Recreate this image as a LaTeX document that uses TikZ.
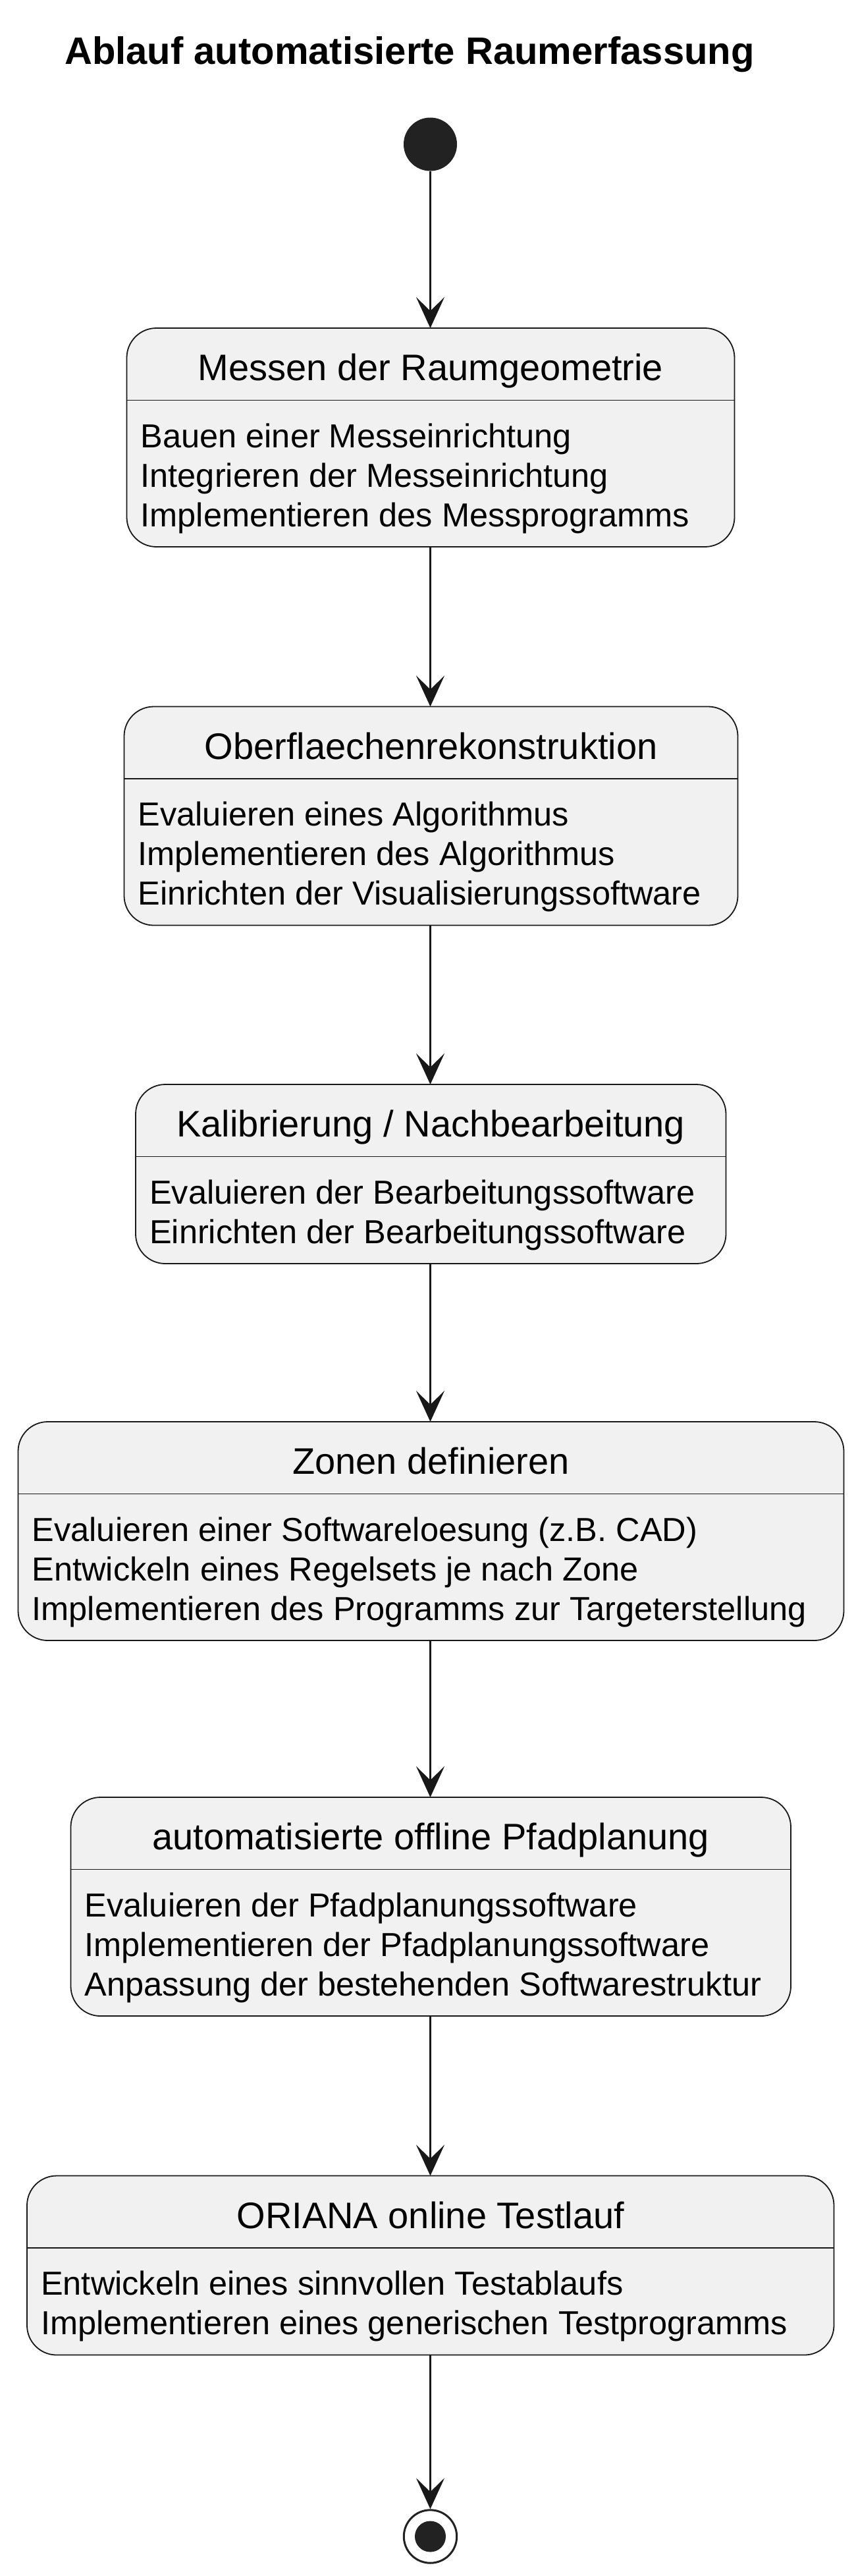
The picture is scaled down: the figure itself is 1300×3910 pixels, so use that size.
\documentclass[tikz,border=0pt]{standalone}
\usepackage{fontspec}
\setmainfont{Liberation Sans}
\usetikzlibrary{arrows.meta}
\definecolor{boxfill}{HTML}{F1F1F1}
\definecolor{boxline}{HTML}{181818}
\definecolor{dotfill}{HTML}{222222}
\tikzset{
  statebox/.style={draw=boxline, fill=boxfill, line width=1.8pt, rounded corners=45pt, inner sep=0pt, outer sep=0pt, anchor=north west},
  divline/.style={draw=boxline, line width=1.8pt},
  sttitle/.style={anchor=base, inner sep=0pt, font=\fontsize{56}{67}\selectfont},
  stline/.style={anchor=base west, inner sep=0pt, font=\fontsize{50.5}{60}\selectfont},
  flow/.style={draw=boxline, line width=3.5pt, -{Stealth[length=47pt, width=43pt, inset=21pt]}},
  diagtitle/.style={anchor=base west, inner sep=0pt, font=\bfseries\fontsize{58}{70}\selectfont},
  startdot/.style={circle, fill=dotfill, draw=dotfill, line width=1pt, minimum size=80pt, inner sep=0pt},
  endring/.style={circle, draw=dotfill, fill=white, line width=3pt, minimum size=80.4pt, inner sep=0pt},
  enddot/.style={circle, fill=dotfill, minimum size=47pt, inner sep=0pt}
}
\newcommand\mkstate[6]{%
  \node[statebox, minimum width=#4pt, minimum height=#5pt] (#1) at (#2,#3) {};
  \draw[divline] ([yshift=-109.5pt]#1.north west) -- ([yshift=-109.5pt]#1.north east);
  \node[sttitle] (#1t) at ([yshift=-79.5pt]#1.north) {#6};
}
\begin{document}
\begin{tikzpicture}[x=1pt,y=-1pt]
\path[use as bounding box, fill=white] (0,0) rectangle (1300,3910);

\node[diagtitle] (title) at (98,98) {Ablauf automatisierte Raumerfassung};

\node[startdot] (start) at (653.5,219) {};

% State 1
\mkstate{s1}{192.5}{498}{923}{332}{Messen der Raumgeometrie}
\node[stline] (s1a) at ([xshift=21pt,yshift=-181pt]s1.north west) {Bauen einer Messeinrichtung};
\node[stline] (s1b) at ([xshift=21pt,yshift=-241pt]s1.north west) {Integrieren der Messeinrichtung};
\node[stline] (s1c) at ([xshift=21pt,yshift=-301pt]s1.north west) {Implementieren des Messprogramms};

% State 2
\mkstate{s2}{188.5}{1072.5}{932}{332}{Oberflaechenrekonstruktion}
\node[stline] (s2a) at ([xshift=21pt,yshift=-181pt]s2.north west) {Evaluieren eines Algorithmus};
\node[stline] (s2b) at ([xshift=21pt,yshift=-241pt]s2.north west) {Implementieren des Algorithmus};
\node[stline] (s2c) at ([xshift=21pt,yshift=-301pt]s2.north west) {Einrichten der Visualisierungssoftware};

% State 3
\mkstate{s3}{206}{1646}{896.5}{272}{Kalibrierung / Nachbearbeitung}
\node[stline] (s3a) at ([xshift=21pt,yshift=-181pt]s3.north west) {Evaluieren der Bearbeitungssoftware};
\node[stline] (s3b) at ([xshift=21pt,yshift=-241pt]s3.north west) {Einrichten der Bearbeitungssoftware};

% State 4
\mkstate{s4}{27.5}{2158}{1254}{332}{Zonen definieren}
\node[stline] (s4a) at ([xshift=21pt,yshift=-181pt]s4.north west) {Evaluieren einer Softwareloesung (z.B. CAD)};
\node[stline] (s4b) at ([xshift=21pt,yshift=-241pt]s4.north west) {Entwickeln eines Regelsets je nach Zone};
\node[stline] (s4c) at ([xshift=21pt,yshift=-301pt]s4.north west) {Implementieren des Programms zur Targeterstellung};

% State 5
\mkstate{s5}{107.5}{2728}{1093.5}{332}{automatisierte offline Pfadplanung}
\node[stline] (s5a) at ([xshift=21pt,yshift=-181pt]s5.north west) {Evaluieren der Pfadplanungssoftware};
\node[stline] (s5b) at ([xshift=21pt,yshift=-241pt]s5.north west) {Implementieren der Pfadplanungssoftware};
\node[stline] (s5c) at ([xshift=21pt,yshift=-301pt]s5.north west) {Anpassung der bestehenden Softwarestruktur};

% State 6
\mkstate{s6}{41}{3302.5}{1225.5}{272}{ORIANA online Testlauf}
\node[stline] (s6a) at ([xshift=21pt,yshift=-181pt]s6.north west) {Entwickeln eines sinnvollen Testablaufs};
\node[stline] (s6b) at ([xshift=21pt,yshift=-241pt]s6.north west) {Implementieren eines generischen Testprogramms};

% End
\node[endring] (end) at (653.5,3850) {};
\node[enddot] (endin) at (end.center) {};

% Transitions
\draw[flow] (start.south) -- (start.south |- s1.north);
\draw[flow] (start |- s1.south) -- (start |- s2.north);
\draw[flow] (start |- s2.south) -- (start |- s3.north);
\draw[flow] (start |- s3.south) -- (start |- s4.north);
\draw[flow] (start |- s4.south) -- (start |- s5.north);
\draw[flow] (start |- s5.south) -- (start |- s6.north);
\draw[flow] (start |- s6.south) -- (end.north);
\end{tikzpicture}
\end{document}
